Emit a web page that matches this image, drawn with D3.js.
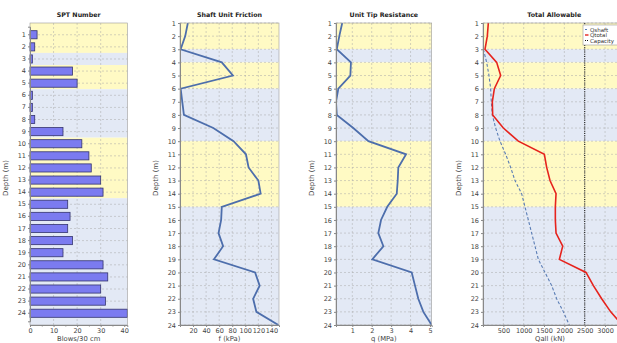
<!DOCTYPE html>
<html>
<head>
<meta charset="utf-8">
<script src="https://cdn.jsdelivr.net/npm/d3@7"></script>
<style>
  body { margin: 0; background: #fff; overflow: hidden; }
  svg { display: block; font-family: "DejaVu Sans", Verdana, sans-serif; }
</style>
</head>
<body>
<div id="chart"></div>
<script>
// depths (m)
const depths = d3.range(1, 25)

// SPT blow counts per depth
const spt = [3, 2, 1, 18, 20, 1, 1, 2, 14, 22, 25, 26, 30, 31, 16, 17, 16, 18, 14, 31, 33, 30, 32, 41.3]

// shaft unit friction f (kPa)
const shaftFriction = [12, 8, 1, 64, 81, 1, 3.5, 6, 51, 82, 101, 105, 120, 123.5, 64, 63, 59, 66, 52, 115, 122, 112, 117, 150.6]

// unit tip resistance q (MPa)
const tipResistance = [0.48, 0.33, 0.2, 0.93, 0.9, 0.28, 0.16, 0.2, 1.05, 1.83, 3.77, 3.37, 3.34, 3.29, 2.8, 2.48, 2.34, 2.6, 2.03, 4.06, 4.23, 4.4, 4.66, 5.09]

// total allowable (kN)
const qTotal = [131, 106, 49, 336, 434, 279, 229, 238, 500, 868, 1508, 1565, 1647, 1795, 1778, 1778, 1795, 1959, 1877, 2532, 2713, 2917, 3139, 3420]
const qShaftDepths = d3.range(3, 25)
const qShaft = [8, 90, 147, 188, 204, 229, 311, 418, 557, 680, 786, 950, 1032, 1114, 1196, 1278, 1360, 1524, 1688, 1811, 1975, 2122]
const capacity = 2500

// soil layers
const layerTop = [1, 3, 4, 6, 10, 15]
const layerBottom = [3, 4, 6, 10, 15, 24]
const layerKind = ['sand', 'clay', 'sand', 'clay', 'sand', 'clay']

const legendLabels = ['Qshaft', 'Qtotal', 'Capacity']

const W = 617, H = 343
const plotTop = 23, plotBottom = 325
const layerFill = { sand: '#fffac4', clay: '#e3e9f5' }
const gridColor = '#a8a8a8'
const textColor = '#444'

const svg = d3.select('#chart').append('svg')
  .attr('width', W).attr('height', H)

function frame(g, left, right, title, xLabel) {
  g.append('text')
    .attr('x', (left + right) / 2).attr('y', 17)
    .attr('text-anchor', 'middle')
    .attr('font-size', '6.3px').attr('font-weight', 'bold').attr('fill', '#222')
    .text(title)
  g.append('text')
    .attr('transform', `translate(${left - 22},${(plotTop + plotBottom) / 2 + 4}) rotate(-90)`)
    .attr('text-anchor', 'middle')
    .attr('font-size', '7px').attr('fill', textColor)
    .text('Depth (m)')
  g.append('text')
    .attr('x', (left + Math.min(right, 617)) / 2).attr('y', 340.8)
    .attr('text-anchor', 'middle')
    .attr('font-size', '6.8px').attr('fill', textColor)
    .text(xLabel)
}

function styleAxis(sel) {
  sel.selectAll('path, line').attr('stroke', '#888')
  sel.selectAll('text').attr('fill', textColor).attr('font-size', '6.5px')
    .attr('font-family', '"DejaVu Sans", Verdana, sans-serif')
}

// ---------- Panel 1: SPT bars ----------
{
  const left = 30, right = 127.3
  const g = svg.append('g')
  const x = d3.scaleLinear().domain([0, 41.3]).range([left, right])
  const y = d3.scaleBand().domain(depths).range([plotTop + 3.7, plotBottom - 3.7]).padding(0.33)
  const stepEdge = d => y(d) - (y.step() - y.bandwidth()) / 2

  layerTop.forEach((t, i) => {
    const y0 = i === 0 ? plotTop : stepEdge(t)
    const y1 = i === layerTop.length - 1 ? plotBottom : stepEdge(layerBottom[i])
    g.append('rect').attr('x', left).attr('y', y0)
      .attr('width', right - left).attr('height', y1 - y0)
      .attr('fill', layerFill[layerKind[i]])
  })
  g.selectAll('.hg').data(depths).enter().append('line')
    .attr('x1', left).attr('x2', right)
    .attr('y1', d => y(d) + y.bandwidth() / 2).attr('y2', d => y(d) + y.bandwidth() / 2)
    .attr('stroke', gridColor).attr('stroke-width', 0.5).attr('stroke-dasharray', '2,2')
  g.selectAll('.vg').data([10, 20, 30]).enter().append('line')
    .attr('x1', d => x(d)).attr('x2', d => x(d))
    .attr('y1', plotTop).attr('y2', plotBottom)
    .attr('stroke', gridColor).attr('stroke-width', 0.5).attr('stroke-dasharray', '2,2')

  g.selectAll('.bar').data(depths).enter().append('rect')
    .attr('x', x(0)).attr('y', d => y(d))
    .attr('width', (d, i) => x(spt[i]) - x(0)).attr('height', y.bandwidth())
    .attr('fill', '#7b7bf0').attr('stroke', '#34346e').attr('stroke-width', 0.8)

  g.append('rect').attr('x', left).attr('y', plotTop)
    .attr('width', right - left).attr('height', plotBottom - plotTop)
    .attr('fill', 'none').attr('stroke', '#999').attr('stroke-width', 0.6)

  g.append('g').attr('transform', `translate(${left},0)`)
    .call(d3.axisLeft(y).tickSize(2).tickPadding(2)).call(styleAxis)
  g.append('g').attr('transform', `translate(0,${plotBottom})`)
    .call(d3.axisBottom(x).tickValues([0, 10, 20, 30, 40]).tickSize(2).tickPadding(1.2)).call(styleAxis)
  g.append('g').attr('transform', `translate(0,${plotBottom})`)
    .call(d3.axisBottom(x).tickValues([5, 15, 25, 35]).tickSize(1.5).tickFormat(''))
    .call(styleAxis).select('.domain').remove()

  frame(g, left, right, 'SPT Number', 'Blows/30 cm')
}

// ---------- line panels ----------
function linePanel(opts) {
  const g = svg.append('g')
  const { left, right } = opts
  const x = d3.scaleLinear().domain(opts.domain).range([left, right])
  const y = d3.scaleLinear().domain([1, 24]).range([plotTop, plotBottom])
  const clipId = 'clip' + Math.round(left)
  g.append('clipPath').attr('id', clipId).append('rect')
    .attr('x', left).attr('y', plotTop).attr('width', right - left).attr('height', plotBottom - plotTop)

  layerTop.forEach((t, i) => {
    g.append('rect').attr('x', left).attr('y', y(t))
      .attr('width', right - left).attr('height', y(layerBottom[i]) - y(t))
      .attr('fill', layerFill[layerKind[i]])
  })
  g.selectAll('.hg').data(depths).enter().append('line')
    .attr('x1', left).attr('x2', right)
    .attr('y1', d => y(d)).attr('y2', d => y(d))
    .attr('stroke', gridColor).attr('stroke-width', 0.5).attr('stroke-dasharray', '2,2')
  g.selectAll('.vg').data(opts.ticks).enter().append('line')
    .attr('x1', d => x(d)).attr('x2', d => x(d))
    .attr('y1', plotTop).attr('y2', plotBottom)
    .attr('stroke', gridColor).attr('stroke-width', 0.5).attr('stroke-dasharray', '2,2')

  const plot = g.append('g').attr('clip-path', `url(#${clipId})`)
  opts.draw(plot, x, y)

  g.append('rect').attr('x', left).attr('y', plotTop)
    .attr('width', right - left).attr('height', plotBottom - plotTop)
    .attr('fill', 'none').attr('stroke', '#999').attr('stroke-width', 0.6)

  g.append('g').attr('transform', `translate(${left},0)`)
    .call(d3.axisLeft(y).tickValues(depths).tickFormat(d3.format('d')).tickSize(2).tickPadding(2))
    .call(styleAxis)
  g.append('g').attr('transform', `translate(0,${plotBottom})`)
    .call(d3.axisBottom(x).tickValues(opts.ticks).tickFormat(d3.format('d')).tickSize(2).tickPadding(1.2))
    .call(styleAxis)

  frame(g, left, right, opts.title, opts.xLabel)
  return { g, x, y }
}

const lineOf = (x, y, xs, vals) => d3.line().x((d, i) => x(vals[i])).y(d => y(d))(xs)

linePanel({
  left: 180, right: 279, domain: [0, 151.6],
  ticks: [20, 40, 60, 80, 100, 120, 140],
  title: 'Shaft Unit Friction', xLabel: 'f (kPa)',
  draw: (p, x, y) => p.append('path').attr('d', lineOf(x, y, depths, shaftFriction))
    .attr('fill', 'none').attr('stroke', '#4d6eac').attr('stroke-width', 1.8)
})

linePanel({
  left: 336, right: 431.7, domain: [0.16, 5.09],
  ticks: [1, 2, 3, 4, 5],
  title: 'Unit Tip Resistance', xLabel: 'q (MPa)',
  draw: (p, x, y) => p.append('path').attr('d', lineOf(x, y, depths, tipResistance))
    .attr('fill', 'none').attr('stroke', '#4d6eac').attr('stroke-width', 1.8)
})

const p4 = linePanel({
  left: 483, right: 625.4, domain: [0, 3500],
  ticks: [500, 1000, 1500, 2000, 2500, 3000],
  title: 'Total Allowable', xLabel: 'Qall (kN)',
  draw: (p, x, y) => {
    p.append('path').attr('d', lineOf(x, y, qShaftDepths, qShaft))
      .attr('fill', 'none').attr('stroke', '#5a7db5').attr('stroke-width', 1.1)
      .attr('stroke-dasharray', '3,2')
    p.append('line').attr('x1', x(capacity)).attr('x2', x(capacity))
      .attr('y1', plotTop).attr('y2', plotBottom)
      .attr('stroke', '#111').attr('stroke-width', 1.1).attr('stroke-dasharray', '1,1.2')
    p.append('path').attr('d', lineOf(x, y, depths, qTotal))
      .attr('fill', 'none').attr('stroke', '#e6231d').attr('stroke-width', 1.6)
  }
})

// legend
{
  const lg = p4.g.append('g').attr('transform', 'translate(583,25)')
  lg.append('rect').attr('width', 40).attr('height', 20)
    .attr('fill', '#fff').attr('stroke', '#999').attr('stroke-width', 0.6)
  const styles = [
    { stroke: '#5a7db5', dash: '2,1.5', w: 1 },
    { stroke: '#e6231d', dash: null, w: 1.4 },
    { stroke: '#111', dash: '1,1', w: 1 }
  ]
  legendLabels.forEach((lab, i) => {
    const yy = 4.5 + i * 5.5
    lg.append('line').attr('x1', 2).attr('x2', 5.5).attr('y1', yy).attr('y2', yy)
      .attr('stroke', styles[i].stroke).attr('stroke-width', styles[i].w)
      .attr('stroke-dasharray', styles[i].dash)
    lg.append('text').attr('x', 7).attr('y', yy + 2)
      .attr('font-size', '5.5px').attr('fill', '#333').text(lab)
  })
}
</script>
</body>
</html>
